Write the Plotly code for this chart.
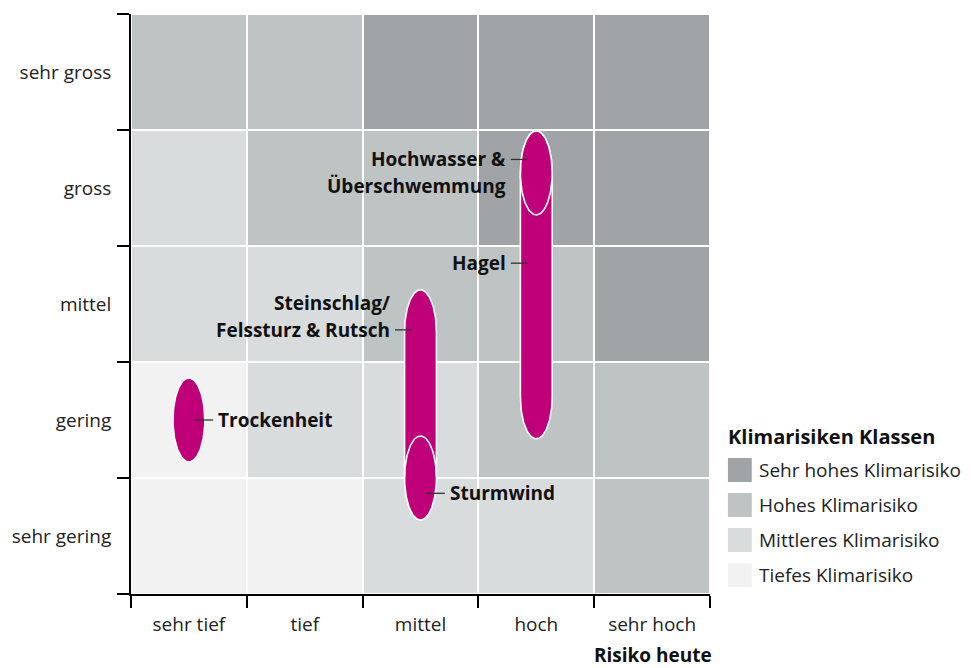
import numpy as np
import plotly.graph_objects as go

# ---------------- data ----------------
x_labels = ["sehr tief", "tief", "mittel", "hoch", "sehr hoch"]
y_labels = ["sehr gering", "gering", "mittel", "gross", "sehr gross"]

# risk class per cell (rows bottom->top = y_labels, cols = x_labels)
# 0 = Tiefes, 1 = Mittleres, 2 = Hohes, 3 = Sehr hohes
risk_matrix = [
    [0, 0, 1, 1, 2],   # sehr gering
    [0, 1, 1, 2, 2],   # gering
    [1, 1, 2, 2, 3],   # mittel
    [1, 2, 2, 3, 3],   # gross
    [2, 2, 3, 3, 3],   # sehr gross
]

class_names = ["Tiefes Klimarisiko", "Mittleres Klimarisiko",
               "Hohes Klimarisiko", "Sehr hohes Klimarisiko"]
class_colors = ["#f2f2f2", "#d9dcdd", "#bec3c3", "#a0a4a6"]

# hazards: x position (Risiko heute), range on y axis (low/high)
hazard_names = ["Trockenheit", "Steinschlag/ Felssturz & Rutsch", "Sturmwind",
                "Hagel", "Hochwasser & Überschwemmung"]
hazard_x = [1, 3, 3, 4, 4]
hazard_low = [2.0, 1.5, 1.5, 2.2, 4.13]
hazard_high = [2.0, 2.76, 1.5, 4.13, 4.13]
label_lines = [["Trockenheit"], ["Steinschlag/", "Felssturz & Rutsch"], ["Sturmwind"],
               ["Hagel"], ["Hochwasser &", "Überschwemmung"]]
label_y = [2.0, 2.777, 1.368, 3.352, 4.246]
label_side = ["right", "left", "right", "left", "left"]
label_anchor_line = [0, 1, 0, 0, 0]

magenta = "#bf0078"
FONT = "Open Sans"

# ---------------- figure ----------------
fig = go.Figure()

n = len(class_colors)
colorscale = []
for i, c in enumerate(class_colors):
    colorscale.append([i / n, c])
    colorscale.append([(i + 1) / n, c])

fig.add_trace(go.Heatmap(
    z=risk_matrix,
    x=list(range(1, 6)), y=list(range(1, 6)),
    zmin=-0.5, zmax=n - 0.5,
    colorscale=colorscale, showscale=False,
    xgap=2, ygap=2, hoverinfo="skip",
))

a_semi = 0.1375  # half width in x units
b_semi = 0.362   # half height in y units

def capsule(xc, lo, hi):
    t1 = np.linspace(0, np.pi, 80)
    t2 = np.linspace(np.pi, 2 * np.pi, 80)
    xs = np.concatenate([xc + a_semi * np.cos(t1), xc + a_semi * np.cos(t2)])
    ys = np.concatenate([hi + b_semi * np.sin(t1), lo + b_semi * np.sin(t2)])
    xs = np.append(xs, xs[0])
    ys = np.append(ys, ys[0])
    return xs, ys

for i in range(len(hazard_names)):
    xs, ys = capsule(hazard_x[i], hazard_low[i], hazard_high[i])
    fig.add_trace(go.Scatter(
        x=xs, y=ys, mode="lines", fill="toself", fillcolor=magenta,
        line=dict(color="white", width=1.6), hoverinfo="skip", showlegend=False,
    ))

shapes = []
annotations = []
for i in range(len(hazard_names)):
    xc = hazard_x[i]
    ly = label_y[i]
    if label_side[i] == "right":
        x0, x1, tx, anchor = xc + 0.05, xc + 0.21, xc + 0.235, "left"
    else:
        x0, x1, tx, anchor = xc - 0.075, xc - 0.22, xc - 0.245, "right"
    shapes.append(dict(type="line", xref="x", yref="y", x0=x0, x1=x1, y0=ly, y1=ly,
                       line=dict(color="#333333", width=1.3)))
    for j, txt in enumerate(label_lines[i]):
        annotations.append(dict(
            x=tx, y=ly, xref="x", yref="y", text="<b>" + txt + "</b>",
            showarrow=False, xanchor=anchor, yanchor="middle",
            yshift=-(j - label_anchor_line[i]) * 27,
            font=dict(family=FONT, size=19, color="#111111"),
        ))

# manual legend (paper coordinates)
plot_w, plot_h = 582.0, 580.0
def px_x(p):
    return (p - 128) / plot_w
def px_y(p):
    return (594 - p) / plot_h

annotations.append(dict(
    x=px_x(726), y=px_y(436), xref="paper", yref="paper",
    text="<b>Klimarisiken Klassen</b>", showarrow=False,
    xanchor="left", yanchor="middle",
    font=dict(family=FONT, size=20, color="#111111"),
))
legend_order = [3, 2, 1, 0]
for k, ci in enumerate(legend_order):
    cy = 470 + 35 * k
    shapes.append(dict(type="rect", xref="paper", yref="paper",
                       x0=px_x(728), x1=px_x(752), y0=px_y(cy - 12), y1=px_y(cy + 12),
                       fillcolor=class_colors[ci], line=dict(width=0)))
    annotations.append(dict(
        x=px_x(757), y=px_y(cy), xref="paper", yref="paper",
        text=class_names[ci], showarrow=False, xanchor="left", yanchor="middle",
        font=dict(family=FONT, size=19, color="#222222"),
    ))

annotations.append(dict(
    x=px_x(714), y=px_y(655), xref="paper", yref="paper",
    text="<b>Risiko heute</b>", showarrow=False, xanchor="right", yanchor="middle",
    font=dict(family=FONT, size=19, color="#111111"),
))

boundaries = [0.5, 1.5, 2.5, 3.5, 4.5, 5.5]
axis_common = dict(
    showgrid=False, zeroline=False, showline=True, linecolor="black", linewidth=1.8,
    ticks="", tickfont=dict(family=FONT, size=19, color="#222222"),
    minor=dict(tickmode="array", tickvals=boundaries, ticks="outside",
               ticklen=12, tickwidth=1.8, tickcolor="black", showgrid=False),
)

fig.update_layout(
    width=971, height=668,
    margin=dict(l=128, r=261, t=14, b=74),
    paper_bgcolor="white", plot_bgcolor="white",
    xaxis=dict(range=[0.5, 5.5], tickmode="array", tickvals=[1, 2, 3, 4, 5],
               ticktext=x_labels, ticklabelstandoff=12, **axis_common),
    yaxis=dict(range=[0.5, 5.5], tickmode="array", tickvals=[1, 2, 3, 4, 5],
               ticktext=y_labels, ticklabelstandoff=14, **axis_common),
    shapes=shapes, annotations=annotations, showlegend=False,
    font=dict(family=FONT),
)

fig.write_html("out.html", config={"displayModeBar": False},
               post_script="document.body.style.margin='0';")
